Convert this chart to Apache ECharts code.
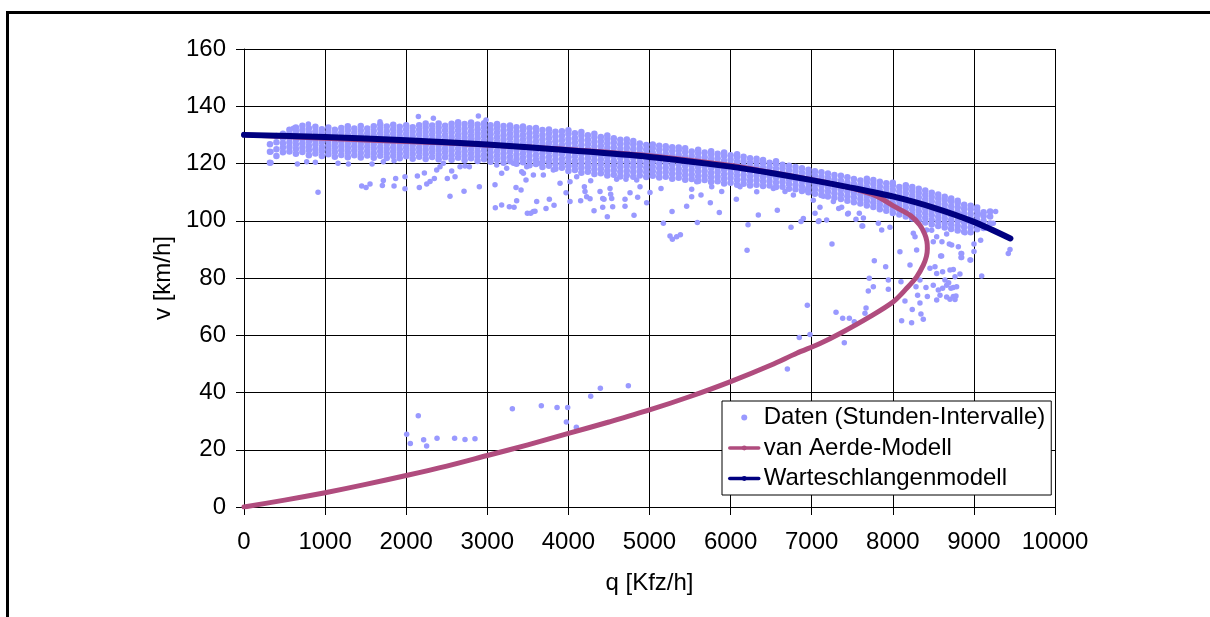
<!DOCTYPE html>
<html>
<head>
<meta charset="utf-8">
<script src="https://cdn.jsdelivr.net/npm/echarts@6/dist/echarts.min.js"></script>
<style>
html,body{margin:0;padding:0;background:#fff;}
#chart{width:1210px;height:617px;}
</style>
</head>
<body>
<div id="chart"></div>
<script>
// ---- Data ----
const xTicks = [0, 1000, 2000, 3000, 4000, 5000, 6000, 7000, 8000, 9000, 10000];
const yTicks = [0, 20, 40, 60, 80, 100, 120, 140, 160];

// Scattered single observations [q, v]
const dataOutliers = [
[2006,25.4],[2051,22.2],[2149,31.9],[2215,23.5],[2252,21.3],[2380,24.0],[2597,24.0],[2725,23.6],[2848,23.8],
[3309,34.3],[3666,35.4],[3860,34.8],[3991,34.8],[3975,29.7],[4098,27.9],[4275,38.7],[4394,41.5],[4739,42.4],[6700,48.2],
[7402,57.4],[7300,68.0],[7382,65.9],[7464,65.9],[7525,64.7],[7670,69.5],[7657,67.7],[6946,70.5],[6979,60.3],[6847,59.2],
[7760,76.9],[7698,75.5],[7710,79.9],[7772,86.0],[7912,83.9],[7945,79.3],[7945,76.1],[8088,89.2],[8101,78.7],[8150,72.0],
[8109,65.1],[8232,64.4],[8240,69.0],[8347,67.4],[8376,65.6],[8212,84.5],[8294,89.8],[8335,79.3],[8286,76.9],[8306,74.0],
[8335,71.3],[8409,76.7],[8426,73.5],[8458,83.4],[8520,83.9],[8541,81.6],[8499,77.5],[8561,75.8],[8541,72.3],[8582,74.0],
[8614,82.2],[8643,79.3],[8614,76.4],[8664,77.5],[8689,78.3],[8717,76.4],[8746,83.0],[8767,80.4],[8787,76.9],[8746,73.5],
[8767,72.5],[8828,81.4],[8590,87.7],[8479,96.7],[8541,94.4],[8606,92.7],[8664,95.4],[8726,91.5],[8808,90.9],[8849,88.6],
[8849,87.2],[8890,95.8],[8960,86.3],[9001,91.9],[9001,89.3],[9096,80.7],[9083,93.2],[9239,99.1],[9231,96.8],[9054,102.4],
[9116,102.0],[9268,103.2],[9445,90.0],[9424,88.6],[7250,91.9],[7620,98.2],[7587,102.6],[7546,100.5],[7443,102.4],[7369,104.7],
[7863,96.8],[7965,97.7],[7822,99.1],[7184,100.3],[8253,95.6],[8274,94.4],[8418,96.8],[8499,92.7],[8697,91.9],
[6745,97.7],[6868,99.7],[6576,103.7],[6342,102.0],[7090,100.0],
[8841,88.6],[8841,87.2],[8952,86.3],[8602,87.7],[8705,82.8],[8746,76.7],[8779,73.7],[8664,73.4],[8705,72.6],
[6203,89.7],[5171,99.1],[5278,103.2],[5253,94.7],[5282,93.5],[5335,94.4],[5381,95.1],[5590,99.4],[5750,106.3],[5861,102.9],
[6071,107.5],[6215,98.6],[7041,102.6],[7452,102.6],[7637,101.0],[7629,98.2],
[3724,104.3],[3765,107.5],[3823,105.4],[3971,109.8],[4020,113.6],[4020,106.7],[4151,107.0],[4205,110.2],[4225,108.4],[4267,107.7],
[4197,111.9],[4275,114.0],[4316,103.5],[4423,104.7],[4423,107.8],[4390,110.2],[4439,107.5],[4480,101.4],[4513,111.3],[4521,109.3],
[4546,104.9],[4534,107.8],[4595,114.5],[4698,107.5],[4698,105.1],[4710,114.5],[4760,109.8],[4809,101.9],[4854,108.2],[4883,111.9],
[4842,114.2],[4965,106.3],[5006,109.9],[5142,111.3],[5117,115.4],[5458,105.1],[5520,111.0],[5520,108.4],[5635,109.0],[5582,113.6],
[6897,100.8],[7102,104.7],[7082,99.7],[7333,104.3],
[913,110.0],[333,120.3],[333,124.1],[658,119.8],[773,120.6],[880,120.4],[1159,120.1],[1287,119.8],[1579,119.8],[1718,120.6],
[1850,121.0],[1451,112.1],[1505,111.6],[1554,112.8],[1718,114.1],[1706,112.3],[1850,112.1],[1870,114.8],[1985,115.4],[1985,111.2],
[2162,111.6],[2138,115.6],[2224,116.7],[2253,112.8],[2294,113.7],[2347,114.8],[2376,117.7],[2417,118.9],[2458,120.1],[2507,114.8],
[2540,108.6],[2561,117.4],[2602,115.4],[2664,118.9],[2725,119.1],[2779,118.9],[2713,110.3],[2902,111.9],[3095,112.6],[3099,104.5],
[3177,105.5],[3272,104.9],[3330,104.7],[3362,107.0],[3354,111.6],[3416,110.7],[3445,116.6],[3477,114.2],[3609,106.7],[3494,102.6],
[3535,102.6],[3568,103.2],[3588,103.3],[3239,118.3],[3177,116.6],
[2150,136.4],[2335,135.8],[2890,136.6],[2984,135.2],[1677,134.6],[794,133.8],[609,132.3],
[6322,110.1],[6527,111.3],[6671,110.2],[6774,109.0],[6938,110.7],[7020,107.2],[7144,108.6],[7267,106.7],[6116,111.9],[5890,110.2],
[5767,111.9],[3116,119.5],[3321,120.1],[3424,117.1],[3486,118.9],[3568,116.0],[3630,120.1],[3691,116.0],[3814,117.7],[3897,113.1],[4102,115.4]
];

// Dense core of the cloud: each row = [q, v, v, v, ...]
const dataBand = [
[320,120.3,124.1,126.7],
[400,122.6,125.0,127.4,129.6],
[480,123.9,125.6,127.1,128.8,130.4],
[560,124.2,125.8,127.3,128.9,130.5,131.8],
[640,123.4,125.1,126.6,128.2,129.7,131.3,132.6],
[720,124.0,125.5,127.0,128.6,130.1,131.7,133.2],
[800,122.9,124.6,126.1,127.7,129.2,130.8,132.3],
[880,123.5,125.0,126.6,128.1,129.7,131.2,132.8],
[960,122.6,124.3,125.8,127.4,128.9,130.5,132.0],
[1040,123.2,124.8,126.3,127.9,129.4,131.0,132.6],
[1120,122.4,124.0,125.6,127.1,128.7,130.2,131.8],
[1200,123.0,124.6,126.1,127.7,129.2,130.8,132.4],
[1280,122.2,123.8,125.4,126.9,128.5,130.0,131.6,133.0],
[1360,122.9,124.5,126.0,127.6,129.1,130.7,132.2],
[1440,122.1,123.7,125.3,126.8,128.4,129.9,131.5,133.1],
[1520,122.8,124.4,125.9,127.5,129.0,130.6,132.2],
[1600,122.0,123.6,125.2,126.7,128.3,129.8,131.4,133.0],
[1680,122.7,124.3,125.8,127.4,128.9,130.5,132.1,133.6],
[1760,121.9,123.5,125.1,126.6,128.2,129.7,131.3,132.9],
[1840,122.6,124.2,125.7,127.3,128.8,130.4,132.0,133.5],
[1920,121.8,123.4,125.0,126.5,128.1,129.6,131.2,132.8],
[2000,122.5,124.1,125.6,127.2,128.7,130.3,131.9,133.4],
[2080,121.7,123.3,124.9,126.4,128.0,129.5,131.1,132.7],
[2160,122.4,124.0,125.5,127.1,128.6,130.2,131.8,133.4],
[2240,121.6,123.2,124.8,126.3,127.9,129.4,131.0,132.6,134.0],
[2320,122.3,123.9,125.4,127.0,128.5,130.1,131.7,133.3],
[2400,121.5,123.1,124.7,126.2,127.8,129.3,130.9,132.5,134.0],
[2480,122.2,123.8,125.3,126.9,128.4,130.0,131.6,133.2],
[2560,121.3,122.9,124.5,126.1,127.6,129.2,130.8,132.4,133.9],
[2640,122.0,123.6,125.2,126.8,128.3,129.9,131.5,133.1,134.4],
[2720,121.1,122.7,124.3,125.9,127.5,129.0,130.6,132.2,133.8],
[2800,121.8,123.4,125.0,126.6,128.2,129.7,131.3,132.9,134.3],
[2880,120.9,122.5,124.1,125.7,127.3,128.8,130.4,132.0,133.6],
[2960,121.5,123.1,124.7,126.3,127.9,129.5,131.1,132.7,134.1],
[3040,120.6,122.2,123.8,125.4,127.0,128.6,130.2,131.8,133.4],
[3120,121.2,122.8,124.4,126.0,127.6,129.2,130.8,132.4,133.8],
[3200,120.3,121.9,123.5,125.1,126.7,128.3,129.9,131.5,133.1],
[3280,120.8,122.4,124.0,125.6,127.2,128.8,130.4,132.0,133.3],
[3360,119.9,121.5,123.1,124.7,126.3,127.9,129.5,131.1,132.7],
[3440,120.4,122.0,123.6,125.2,126.8,128.4,130.0,131.6,132.9],
[3520,119.4,121.0,122.6,124.2,125.8,127.4,129.0,130.6,132.3],
[3600,119.8,121.4,123.0,124.6,126.2,127.8,129.4,131.0,132.4],
[3680,118.8,120.4,122.0,123.6,125.2,126.8,128.4,130.0,131.7],
[3760,119.2,120.8,122.4,124.0,125.6,127.2,128.8,130.4,131.9],
[3840,118.2,119.8,121.4,123.0,124.6,126.2,127.8,129.4,131.1],
[3920,118.5,120.1,121.7,123.3,124.9,126.5,128.1,129.7,131.3],
[4000,117.4,119.0,120.6,122.2,123.8,125.4,127.0,128.6,130.3,131.6],
[4080,117.7,119.3,120.9,122.5,124.1,125.7,127.3,128.9,130.6],
[4160,116.8,118.4,120.0,121.6,123.2,124.8,126.4,128.0,129.7,131.0],
[4240,117.1,118.7,120.3,121.9,123.5,125.1,126.7,128.3,129.9],
[4320,116.3,117.9,119.5,121.1,122.7,124.3,125.9,127.5,129.1,130.4],
[4400,116.6,118.2,119.8,121.4,123.0,124.6,126.2,127.8,129.3],
[4480,115.8,117.4,119.0,120.6,122.2,123.8,125.4,127.0,128.6,129.8],
[4560,116.1,117.7,119.3,120.9,122.5,124.1,125.7,127.3,128.8],
[4640,115.5,117.1,118.7,120.3,121.9,123.5,125.1,126.7,128.3],
[4720,115.9,117.5,119.1,120.7,122.3,123.9,125.5,127.1,128.4],
[4800,115.4,117.0,118.6,120.2,121.8,123.4,125.0,126.6,127.9],
[4880,115.8,117.4,119.0,120.6,122.2,123.8,125.4,127.0],
[4960,115.3,116.9,118.5,120.1,121.7,123.3,124.9,126.5],
[5040,115.7,117.3,118.9,120.5,122.1,123.7,125.3,126.6],
[5120,115.1,116.7,118.3,119.9,121.5,123.1,124.7,126.2],
[5200,115.4,117.0,118.6,120.2,121.8,123.4,125.0,126.0],
[5280,114.7,116.3,117.9,119.5,121.1,122.7,124.3,125.7],
[5360,115.0,116.6,118.2,119.8,121.4,123.0,124.6,125.6],
[5440,114.3,115.9,117.5,119.1,120.7,122.3,123.9,125.3],
[5520,114.6,116.2,117.8,119.4,121.0,122.6,124.2],
[5600,113.9,115.5,117.1,118.7,120.3,121.9,123.5,124.8],
[5680,114.2,115.8,117.4,119.0,120.6,122.2,123.8],
[5760,113.5,115.1,116.7,118.3,119.9,121.5,123.1,124.3],
[5840,113.8,115.4,117.0,118.6,120.2,121.8,123.4],
[5920,113.0,114.6,116.2,117.8,119.4,121.0,122.6,123.8],
[6000,113.3,114.9,116.5,118.1,119.7,121.3,122.9],
[6080,112.6,114.2,115.8,117.4,119.0,120.6,122.2,123.2],
[6160,112.9,114.5,116.1,117.7,119.3,120.9,122.4],
[6240,112.3,113.9,115.5,117.1,118.7,120.3,121.8],
[6320,112.6,114.2,115.8,117.4,119.0,120.6,121.7],
[6400,112.1,113.7,115.3,116.9,118.5,120.1,121.2],
[6480,112.3,113.9,115.5,117.1,118.7,120.3],
[6560,111.8,113.4,115.0,116.6,118.2,119.8,120.8],
[6640,111.9,113.5,115.1,116.7,118.3,119.6],
[6720,111.2,112.8,114.4,116.0,117.6,119.2],
[6800,111.0,112.6,114.2,115.8,117.4,118.8],
[6880,110.4,112.0,113.6,115.2,116.8,118.3],
[6960,110.0,111.6,113.2,114.8,116.4,117.8],
[7040,109.4,111.0,112.6,114.2,115.8,117.3],
[7120,109.0,110.6,112.2,113.8,115.4,116.9],
[7200,108.5,110.1,111.7,113.3,114.9,116.5],
[7280,108.0,109.6,111.2,112.8,114.4,116.0],
[7360,107.6,109.2,110.8,112.4,114.0,115.7],
[7440,107.0,108.6,110.2,111.8,113.4,115.2],
[7520,106.5,108.1,109.7,111.3,112.9,114.6],
[7600,106.0,107.6,109.2,110.8,112.4,114.1],
[7680,105.3,106.9,108.5,110.1,111.7,113.4,114.7],
[7760,104.8,106.4,108.0,109.6,111.2,112.8,114.2],
[7840,104.0,105.6,107.2,108.8,110.4,112.0,113.6],
[7920,103.5,105.1,106.7,108.3,109.9,111.5,113.1],
[8000,102.7,104.3,105.9,107.5,109.1,110.7,112.3,113.3],
[8080,102.2,103.8,105.4,107.0,108.6,110.2,111.8],
[8160,101.5,103.1,104.7,106.3,107.9,109.5,111.1,112.4],
[8240,100.8,102.4,104.0,105.6,107.2,108.8,110.4,111.8],
[8320,100.1,101.7,103.3,104.9,106.5,108.1,109.7,111.2],
[8400,99.4,101.0,102.6,104.2,105.8,107.4,109.0,110.6],
[8480,98.7,100.3,101.9,103.5,105.1,106.7,108.3,109.8],
[8560,98.2,99.8,101.4,103.0,104.6,106.2,107.8,109.2],
[8640,97.6,99.2,100.8,102.4,104.0,105.6,107.2,108.4],
[8720,97.1,98.7,100.3,101.9,103.5,105.1,106.7,107.8],
[8800,96.6,98.2,99.8,101.4,103.0,104.6,106.2,107.0],
[8880,96.2,97.8,99.4,101.0,102.6,104.2,105.6],
[8960,96.0,97.6,99.2,100.8,102.4,104.0,105.2],
[9040,97.0,98.6,100.2,101.8,103.4,104.6],
[9120,97.5,99.8,101.6,103.0],
[9200,99.0,101.5,103.2]
];

// van Aerde model curve (q, v) in drawing order
const aerdeQ = [0,500,1000,1500,2000,2500,3000,3500,4000,4500,5000,5500,6000,6500,6815,7102,7349,7719,8006,8171,8294,8376,8415,8426,8420,8392,8330,8220,8006,7801,7500,7200,7000,6500,6000,5000,4000,3000,2000,1000,0];
const aerdeV = [0,2.4,5.0,7.9,11.0,14.3,18.0,21.7,25.7,29.7,33.9,38.6,43.8,49.6,53.7,57.1,60.6,66.5,71.7,76.4,80.4,84.5,87.6,90.3,92.8,95.5,98.6,101.8,105.2,108.6,111.3,113.2,114.3,116.9,119.3,122.7,124.9,126.5,127.7,128.8,130.0];

// Queueing model curve
const queueQ = [0,1000,2000,3000,4000,5000,6000,6500,7000,7500,8000,8500,9000,9450];
const queueV = [130,129.3,128.1,126.6,124.6,122.3,118.9,116.7,114.2,111.5,108.5,104.6,99.6,93.8];

const seriesNames = ['Daten (Stunden-Intervalle)', 'van Aerde-Modell', 'Warteschlangenmodell'];
const axisNames = ['q [Kfz/h]', 'v [km/h]'];

// ---- Build ----
const bandPoints = [];
dataBand.forEach(row => { for (let i = 1; i < row.length; i++) bandPoints.push([row[0], row[i]]); });
const aerdeData = aerdeQ.map((q, i) => [q, aerdeV[i]]);
const queueData = queueQ.map((q, i) => [q, queueV[i]]);

const FONT = "'Liberation Sans', Arial, sans-serif";
const DOT = '#9999FF';
const chart = echarts.init(document.getElementById('chart'), null, {renderer: 'canvas'});
chart.setOption({
  animation: false,
  backgroundColor: '#ffffff',
  textStyle: {fontFamily: FONT},
  grid: {left: 244, top: 49, right: 155, bottom: 110, containLabel: false},
  xAxis: {
    type: 'value', min: xTicks[0], max: xTicks[xTicks.length - 1], interval: 1000,
    name: axisNames[0], nameLocation: 'middle', nameGap: 64,
    nameTextStyle: {fontSize: 24, color: '#000', fontFamily: FONT},
    axisLine: {show: true, lineStyle: {color: '#000', width: 1}},
    axisTick: {show: true, length: 8, lineStyle: {color: '#000'}},
    axisLabel: {fontSize: 24, color: '#000', margin: 23, fontFamily: FONT, formatter: v => String(v)},
    splitLine: {show: true, lineStyle: {color: '#000', width: 1}}
  },
  yAxis: {
    type: 'value', min: yTicks[0], max: yTicks[yTicks.length - 1], interval: 20,
    name: axisNames[1], nameLocation: 'middle', nameGap: 66, nameRotate: 90,
    nameTextStyle: {fontSize: 24, color: '#000', fontFamily: FONT},
    axisLine: {show: true, lineStyle: {color: '#000', width: 1}},
    axisTick: {show: true, length: 8, lineStyle: {color: '#000'}},
    axisLabel: {fontSize: 24, color: '#000', margin: 18, fontFamily: FONT, formatter: v => String(v)},
    splitLine: {show: true, lineStyle: {color: '#000', width: 1}}
  },
  legend: {
    orient: 'vertical', left: 722, top: 401,
    itemWidth: 29, itemHeight: 6, itemGap: 6.5,
    padding: [4.5, 6, 4.5, 6],
    borderColor: '#000', borderWidth: 1, backgroundColor: '#fff',
    lineStyle: {width: 3.5},
    textStyle: {fontSize: 24, color: '#000', fontFamily: FONT, lineHeight: 24},
    data: seriesNames
  },
  graphic: [
    {type: 'line', shape: {x1: 6, y1: 12.5, x2: 1210, y2: 12.5}, style: {stroke: '#000', lineWidth: 3}},
    {type: 'line', shape: {x1: 7.5, y1: 11, x2: 7.5, y2: 617}, style: {stroke: '#000', lineWidth: 3}}
  ],
  series: [
    {
      name: seriesNames[0], type: 'scatter', data: dataOutliers,
      symbol: 'circle', symbolSize: 5.5,
      itemStyle: {color: DOT, opacity: 1}, z: 2
    },
    {
      name: seriesNames[0], type: 'scatter', data: bandPoints,
      symbol: 'circle', symbolSize: 6.5,
      itemStyle: {color: DOT, opacity: 1}, z: 2
    },
    {
      name: seriesNames[1], type: 'line', data: aerdeData, smooth: 0.3,
      symbol: 'circle', symbolSize: 4, showSymbol: false,
      lineStyle: {color: '#B04C7E', width: 5, cap: 'round', join: 'round'},
      itemStyle: {color: '#B04C7E'}, z: 3
    },
    {
      name: seriesNames[2], type: 'line', data: queueData, smooth: 0.3,
      symbol: 'circle', symbolSize: 4, showSymbol: false,
      lineStyle: {color: '#000080', width: 6, cap: 'round', join: 'round'},
      itemStyle: {color: '#000080'}, z: 4
    }
  ]
});
</script>
</body>
</html>
